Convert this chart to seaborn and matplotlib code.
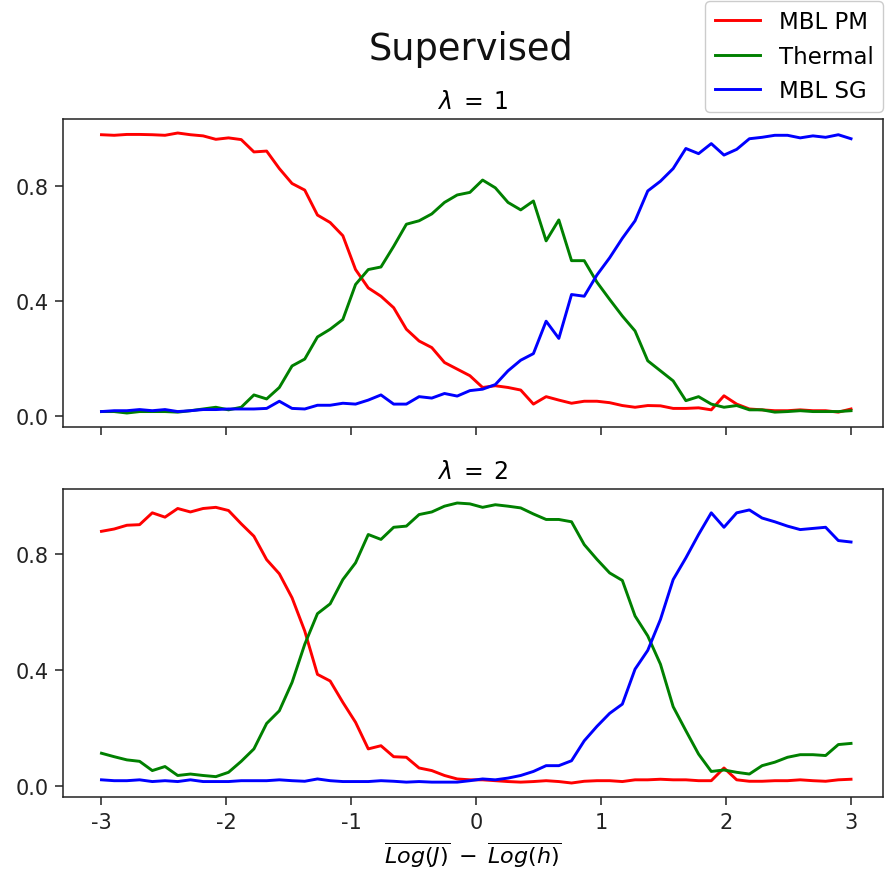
import numpy as np
import pandas as pd
import matplotlib
matplotlib.use("Agg")
import matplotlib.pyplot as plt
import seaborn as sns

# ---- data ----
x_vals = np.linspace(-3, 3, 60)
series_names = ["MBL PM", "Thermal", "MBL SG"]
colors = ["red", "green", "blue"]
panel_titles = [r"$\lambda\;=\;1$", r"$\lambda\;=\;2$"]
x_ticks = [-3, -2, -1, 0, 1, 2, 3]
x_tick_labels = ["-3", "-2", "-1", "0", "1", "2", "3"]
y_ticks = [0.0, 0.4, 0.8]
y_tick_labels = ["0.0", "0.4", "0.8"]

pm_l1 = [0.979, 0.977, 0.980, 0.980, 0.979, 0.977, 0.985, 0.979, 0.975, 0.963,
         0.968, 0.962, 0.919, 0.922, 0.861, 0.809, 0.786, 0.699, 0.673, 0.627,
         0.509, 0.445, 0.416, 0.376, 0.301, 0.260, 0.237, 0.185, 0.162, 0.139,
         0.098, 0.104, 0.098, 0.089, 0.040, 0.066, 0.054, 0.043, 0.050, 0.050,
         0.045, 0.035, 0.029, 0.035, 0.034, 0.025, 0.025, 0.027, 0.020, 0.069,
         0.040, 0.023, 0.020, 0.017, 0.017, 0.020, 0.017, 0.017, 0.012, 0.023]
th_l1 = [0.014, 0.014, 0.009, 0.014, 0.014, 0.014, 0.012, 0.017, 0.023, 0.029,
         0.020, 0.029, 0.072, 0.058, 0.098, 0.173, 0.197, 0.274, 0.301, 0.335,
         0.457, 0.509, 0.518, 0.590, 0.667, 0.679, 0.703, 0.743, 0.769, 0.778,
         0.821, 0.794, 0.743, 0.717, 0.748, 0.609, 0.682, 0.540, 0.540, 0.465,
         0.405, 0.347, 0.295, 0.191, 0.156, 0.121, 0.052, 0.066, 0.040, 0.029,
         0.035, 0.020, 0.020, 0.012, 0.014, 0.017, 0.014, 0.014, 0.014, 0.017]
sg_l1 = [0.014, 0.017, 0.017, 0.021, 0.017, 0.021, 0.014, 0.017, 0.021, 0.021,
         0.023, 0.023, 0.023, 0.025, 0.050, 0.025, 0.023, 0.036, 0.036, 0.043,
         0.040, 0.054, 0.072, 0.040, 0.040, 0.066, 0.061, 0.077, 0.068, 0.087,
         0.092, 0.108, 0.156, 0.193, 0.216, 0.329, 0.269, 0.422, 0.416, 0.490,
         0.550, 0.618, 0.679, 0.783, 0.817, 0.861, 0.931, 0.913, 0.948, 0.908,
         0.928, 0.965, 0.970, 0.977, 0.977, 0.968, 0.975, 0.970, 0.979, 0.965]

pm_l2 = [0.880, 0.888, 0.901, 0.903, 0.944, 0.929, 0.959, 0.947, 0.959, 0.963,
         0.952, 0.906, 0.863, 0.782, 0.733, 0.650, 0.535, 0.385, 0.362, 0.288,
         0.219, 0.127, 0.138, 0.100, 0.098, 0.061, 0.052, 0.035, 0.023, 0.020,
         0.020, 0.017, 0.014, 0.012, 0.014, 0.017, 0.014, 0.009, 0.015, 0.017,
         0.017, 0.014, 0.020, 0.020, 0.022, 0.020, 0.020, 0.017, 0.017, 0.061,
         0.020, 0.015, 0.015, 0.017, 0.017, 0.020, 0.017, 0.015, 0.020, 0.022]
th_l2 = [0.112, 0.100, 0.089, 0.084, 0.052, 0.066, 0.035, 0.040, 0.035, 0.031,
         0.046, 0.084, 0.127, 0.215, 0.259, 0.357, 0.489, 0.595, 0.629, 0.713,
         0.771, 0.869, 0.852, 0.894, 0.898, 0.938, 0.947, 0.967, 0.978, 0.975,
         0.963, 0.972, 0.967, 0.961, 0.940, 0.921, 0.921, 0.913, 0.834, 0.783,
         0.736, 0.710, 0.587, 0.518, 0.420, 0.273, 0.190, 0.109, 0.049, 0.054,
         0.046, 0.040, 0.069, 0.081, 0.098, 0.107, 0.107, 0.104, 0.142, 0.146]
sg_l2 = [0.020, 0.017, 0.017, 0.020, 0.014, 0.017, 0.014, 0.020, 0.014, 0.014,
         0.014, 0.017, 0.017, 0.017, 0.020, 0.017, 0.015, 0.023, 0.017, 0.014,
         0.014, 0.014, 0.017, 0.015, 0.012, 0.014, 0.012, 0.012, 0.012, 0.017,
         0.023, 0.020, 0.026, 0.035, 0.049, 0.069, 0.069, 0.086, 0.155, 0.205,
         0.250, 0.282, 0.403, 0.468, 0.575, 0.713, 0.788, 0.869, 0.944, 0.894,
         0.944, 0.954, 0.926, 0.913, 0.898, 0.886, 0.890, 0.894, 0.848, 0.843]

panels = [[pm_l1, th_l1, sg_l1], [pm_l2, th_l2, sg_l2]]

# ---- style ----
plt.rcParams["axes.unicode_minus"] = False
plt.rcParams["font.family"] = ["DejaVu Sans"]
plt.rcParams["mathtext.fontset"] = "dejavusans"

fig = plt.figure(figsize=(8.85, 8.79), dpi=100)
left, right = 63 / 885, 883 / 885
ax1 = fig.add_axes([left, 1 - 428 / 879, right - left, (428 - 120) / 879])
ax2 = fig.add_axes([left, 1 - 798 / 879, right - left, (798 - 490) / 879], sharex=ax1)
axes = [ax1, ax2]

palette = dict(zip(series_names, colors))
for ax, vals, title in zip(axes, panels, panel_titles):
    df = pd.DataFrame({
        "x": np.concatenate([x_vals] * len(series_names)),
        "y": np.concatenate(vals),
        "series": np.repeat(series_names, len(x_vals)),
    })
    sns.lineplot(data=df, x="x", y="y", hue="series", palette=palette,
                 hue_order=series_names, linewidth=2.1, ax=ax, legend=True)
    ax.set_title(title, fontsize=17, pad=8)
    ax.set_yticks(y_ticks)
    ax.set_yticklabels(y_tick_labels)
    ax.set_ylabel("")
    ax.set_xlabel("")
    ax.tick_params(axis="both", labelsize=15, length=5.5, width=1.1, pad=5,
                   color="#222222", labelcolor="#222222")
    for sp in ax.spines.values():
        sp.set_linewidth(1.1)
        sp.set_color("#222222")

handles, labels = ax1.get_legend_handles_labels()
for ax in axes:
    ax.get_legend().remove()

ax1.set_xticks(x_ticks)
ax1.set_xlim(-3.308, 3.256)
ax1.tick_params(axis="x", labelbottom=False)
ax2.set_xticks(x_ticks)
ax2.set_xticklabels(x_tick_labels)
ax2.set_xlabel(r"$\overline{Log(J)}\;-\;\overline{Log(h)}$", fontsize=16, labelpad=6)

fig.suptitle("Supervised", fontsize=26.5, x=471 / 885, y=1 - 50 / 879,
             va="center", color="#111111")
leg = fig.legend(handles, labels, loc="upper right", bbox_to_anchor=(1.0, 1.0),
                 fontsize=16.5, borderaxespad=0.1, handlelength=2.0,
                 framealpha=1.0)
for h in leg.get_lines():
    h.set_linewidth(2.1)

fig.savefig("out.png", dpi=100)
